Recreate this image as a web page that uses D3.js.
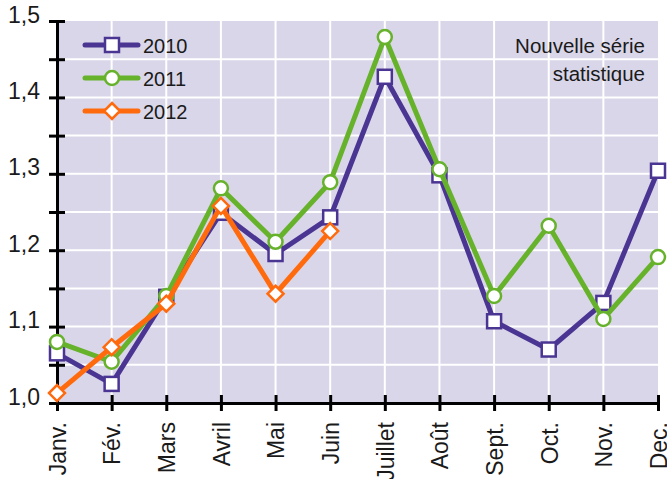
<!DOCTYPE html>
<meta charset="utf-8">
<style>
    html, body { margin:0; padding:0; overflow:hidden; background:#fff }
    text { font-family: "Liberation Sans", Arial, sans-serif; fill:#1a1a1a }
</style>
<svg id="mainsvg" width="667" height="479"></svg>
<script src="https://cdn.jsdelivr.net/npm/d3@7"></script>
<script>

    // data
    var months = ["Janv.", "Fév.", "Mars", "Avril", "Mai", "Juin", "Juillet", "Août", "Sept.", "Oct.", "Nov.", "Dec."];
    var years = ["2010", "2011", "2012"];
    var v2010 = [1.065, 1.025, 1.139, 1.249, 1.195, 1.243, 1.427, 1.298, 1.107, 1.070, 1.131, 1.304];
    var v2011 = [1.080, 1.054, 1.140, 1.281, 1.211, 1.289, 1.479, 1.306, 1.140, 1.232, 1.110, 1.191];
    var v2012 = [1.013, 1.073, 1.130, 1.258, 1.143, 1.225];
    var yTicks = [1.0, 1.1, 1.2, 1.3, 1.4, 1.5];
    var note = ["Nouvelle série", "statistique"];

    var series = [
        { name: years[0], values: v2010, color: "#4b3593", shape: "square" },
        { name: years[1], values: v2011, color: "#67b22b", shape: "circle" },
        { name: years[2], values: v2012, color: "#ff6a0d", shape: "diamond" }
    ];

    var svg = d3.select("#mainsvg");

    var pLeft = 57, pRight = 658, pTop = 21, pBottom = 403;

    var x = d3.scalePoint().domain(months).range([pLeft, pRight]);
    var y = d3.scaleLinear().domain([1.0, 1.5]).range([pBottom, pTop]);

    // plot background
    svg.append("rect")
        .attr("x", pLeft).attr("y", y(1.5))
        .attr("width", pRight - pLeft).attr("height", pBottom - y(1.5))
        .attr("fill", "#d9d6e9");

    // grid
    var minor = d3.range(1.05, 1.5, 0.05);
    svg.append("g").selectAll("line").data(minor).enter().append("line")
        .attr("x1", pLeft).attr("x2", pRight)
        .attr("y1", function(d) { return y(d); }).attr("y2", function(d) { return y(d); })
        .attr("stroke", "#fff").attr("stroke-width", 2);
    svg.append("g").selectAll("line").data(months.slice(1, 11)).enter().append("line")
        .attr("x1", function(d) { return x(d); }).attr("x2", function(d) { return x(d); })
        .attr("y1", y(1.5)).attr("y2", pBottom)
        .attr("stroke", "#fff").attr("stroke-width", 2);

    // y axis
    var fmt = function(d) { return d3.format(".1f")(d).replace(".", ","); };
    var yAxis = svg.append("g").attr("transform", "translate(" + pLeft + ",0)")
        .call(d3.axisLeft(y).tickValues(d3.range(1.0, 1.501, 0.05)).tickSize(8).tickSizeOuter(0)
              .tickFormat(function(d) {
                  return yTicks.some(function(t) { return Math.abs(t - d) < 1e-6; }) ? fmt(d) : "";
              }));
    yAxis.select(".domain").attr("stroke", "#000").attr("stroke-width", 3);
    yAxis.selectAll(".tick line").attr("stroke", "#000").attr("stroke-width", 3).attr("x2", 8).attr("x1", -8);
    yAxis.selectAll(".tick text").attr("x", -17).attr("dy", "0.05em").style("font-size", "23px")
        .attr("font-family", null).attr("fill", null);

    // x axis
    var xAxis = svg.append("g").attr("transform", "translate(0," + pBottom + ")")
        .call(d3.axisBottom(x).tickSize(8).tickSizeOuter(0));
    xAxis.select(".domain").attr("stroke", "#000").attr("stroke-width", 3);
    xAxis.selectAll(".tick line").attr("stroke", "#000").attr("stroke-width", 3).attr("y1", -8).attr("y2", 8);
    xAxis.selectAll(".tick text")
        .attr("transform", "rotate(-90)")
        .attr("x", -19).attr("y", 0).attr("dy", "0.36em")
        .style("text-anchor", "end").style("font-size", "23px")
        .attr("font-family", null).attr("fill", null);

    // lines and markers
    var line = d3.line()
        .x(function(d, i) { return x(months[i]); })
        .y(function(d) { return y(d); });

    function marker(g, shape, color, cx, cy) {
        if (shape === "square") {
            g.append("rect").attr("x", cx - 7).attr("y", cy - 7).attr("width", 14).attr("height", 14)
                .attr("fill", "#fff").attr("stroke", color).attr("stroke-width", 2.5);
        } else if (shape === "circle") {
            g.append("circle").attr("cx", cx).attr("cy", cy).attr("r", 7)
                .attr("fill", "#fff").attr("stroke", color).attr("stroke-width", 2.5);
        } else {
            g.append("path").attr("d", "M" + cx + "," + (cy - 8) + "L" + (cx + 8) + "," + cy + "L" + cx + "," + (cy + 8) + "L" + (cx - 8) + "," + cy + "Z")
                .attr("fill", "#fff").attr("stroke", color).attr("stroke-width", 2.5);
        }
    }

    series.forEach(function(s) {
        var g = svg.append("g");
        g.append("path").datum(s.values).attr("d", line)
            .attr("fill", "none").attr("stroke", s.color).attr("stroke-width", 5).attr("stroke-linejoin", "round");
        s.values.forEach(function(v, i) { marker(g, s.shape, s.color, x(months[i]), y(v)); });
    });

    // legend
    series.forEach(function(s, i) {
        var ly = 45 + i * 33;
        var g = svg.append("g");
        g.append("line").attr("x1", 85).attr("x2", 138).attr("y1", ly).attr("y2", ly)
            .attr("stroke", s.color).attr("stroke-width", 5).attr("stroke-linecap", "round");
        marker(g, s.shape, s.color, 112, ly);
        g.append("text").attr("x", 143).attr("y", ly + 1).attr("dy", "0.36em")
            .style("font-size", "20px").text(s.name);
    });

    // note
    svg.append("g").selectAll("text").data(note).enter().append("text")
        .attr("x", 645).attr("y", function(d, i) { return 46 + i * 28; }).attr("dy", "0.36em")
        .attr("text-anchor", "end").style("font-size", "20.5px").text(function(d) { return d; });

</script>
